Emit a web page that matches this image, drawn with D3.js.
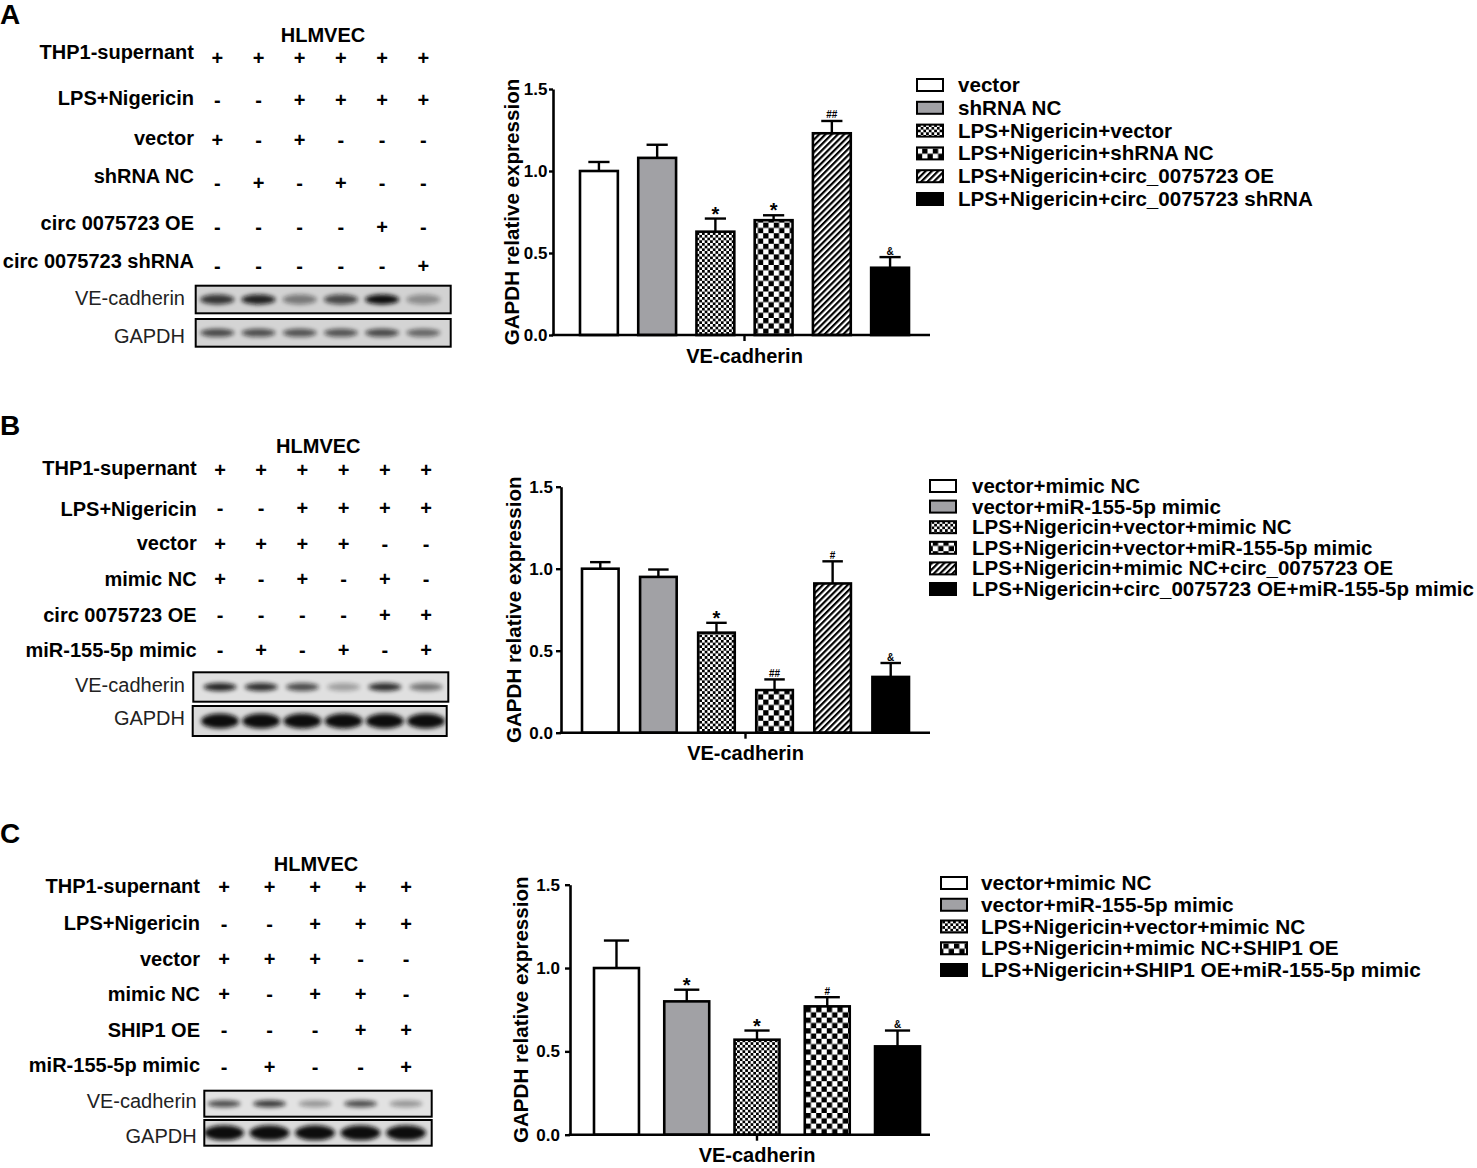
<!DOCTYPE html>
<html><head><meta charset="utf-8">
<script src="https://cdn.jsdelivr.net/npm/d3@7"></script>
<style>
body{margin:0;background:#fff}
text{font-family:"Liberation Sans",Arial,Helvetica,sans-serif}
</style>
</head><body>
<svg id="c" width="1477" height="1168"></svg>
<script>
// ---------------- DATA ----------------
const yTicks = [0, 0.5, 1.0, 1.5];
const xCategory = "VE-cadherin";

// Panel A
const A_groups = ["vector","shRNA NC","LPS+Nigericin+vector","LPS+Nigericin+shRNA NC","LPS+Nigericin+circ_0075723 OE","LPS+Nigericin+circ_0075723 shRNA"];
const A_means  = [1.00, 1.08, 0.63, 0.70, 1.23, 0.41];
const A_errs   = [0.055, 0.08, 0.08, 0.03, 0.075, 0.065];
const A_marks  = ["", "", "*", "*", "##", "&"];
const A_styles = [0, 1, 2, 3, 4, 5];
const A_rowLabels = ["THP1-supernant","LPS+Nigericin","vector","shRNA NC","circ 0075723 OE","circ 0075723 shRNA"];
const A_signs = [
  ["+","+","+","+","+","+"],
  ["-","-","+","+","+","+"],
  ["+","-","+","-","-","-"],
  ["-","+","-","+","-","-"],
  ["-","-","-","-","+","-"],
  ["-","-","-","-","-","+"]
];
const A_veBands    = [0.80, 0.90, 0.45, 0.70, 1.00, 0.35];
const A_gapdhBands = [0.70, 0.68, 0.65, 0.65, 0.70, 0.55];

// Panel B
const B_groups = ["vector+mimic NC","vector+miR-155-5p mimic","LPS+Nigericin+vector+mimic NC","LPS+Nigericin+vector+miR-155-5p mimic","LPS+Nigericin+mimic NC+circ_0075723 OE","LPS+Nigericin+circ_0075723 OE+miR-155-5p mimic"];
const B_means  = [1.00, 0.95, 0.61, 0.26, 0.91, 0.34];
const B_errs   = [0.04, 0.045, 0.06, 0.065, 0.135, 0.085];
const B_marks  = ["", "", "*", "##", "#", "&"];
const B_styles = [0, 1, 2, 3, 4, 5];
const B_rowLabels = ["THP1-supernant","LPS+Nigericin","vector","mimic NC","circ 0075723 OE","miR-155-5p mimic"];
const B_signs = [
  ["+","+","+","+","+","+"],
  ["-","-","+","+","+","+"],
  ["+","+","+","+","-","-"],
  ["+","-","+","-","+","-"],
  ["-","-","-","-","+","+"],
  ["-","+","-","+","-","+"]
];
const B_veBands    = [0.90, 0.85, 0.70, 0.30, 0.85, 0.50];
const B_gapdhBands = [1, 1, 1, 1, 1, 1];

// Panel C
const C_groups = ["vector+mimic NC","vector+miR-155-5p mimic","LPS+Nigericin+vector+mimic NC","LPS+Nigericin+mimic NC+SHIP1 OE","LPS+Nigericin+SHIP1 OE+miR-155-5p mimic"];
const C_means  = [1.00, 0.80, 0.57, 0.77, 0.53];
const C_errs   = [0.165, 0.07, 0.055, 0.055, 0.095];
const C_marks  = ["", "*", "*", "#", "&"];
const C_styles = [0, 1, 2, 3, 5];
const C_rowLabels = ["THP1-supernant","LPS+Nigericin","vector","mimic NC","SHIP1 OE","miR-155-5p mimic"];
const C_signs = [
  ["+","+","+","+","+"],
  ["-","-","+","+","+"],
  ["+","+","+","-","-"],
  ["+","-","+","+","-"],
  ["-","-","-","+","+"],
  ["-","+","-","-","+"]
];
const C_veBands    = [0.70, 0.80, 0.35, 0.70, 0.35];
const C_gapdhBands = [1, 1, 1, 1, 1];

// ---------------- DRAWING ----------------
const svg = d3.select("#c");
const defs = svg.append("defs");
const FONT = '"Liberation Sans",Arial,Helvetica,sans-serif';

(function(){
  let p = defs.append("pattern").attr("id","pFine").attr("patternUnits","userSpaceOnUse").attr("width",5.4).attr("height",5.4);
  p.append("rect").attr("width",5.4).attr("height",5.4).attr("fill","#fff");
  p.append("rect").attr("width",2.7).attr("height",2.7).attr("fill","#000");
  p.append("rect").attr("x",2.7).attr("y",2.7).attr("width",2.7).attr("height",2.7).attr("fill","#000");
  p = defs.append("pattern").attr("id","pCoarse").attr("patternUnits","userSpaceOnUse").attr("width",10.6).attr("height",10.6);
  p.append("rect").attr("width",10.6).attr("height",10.6).attr("fill","#fff");
  p.append("rect").attr("width",5.3).attr("height",5.3).attr("fill","#000");
  p.append("rect").attr("x",5.3).attr("y",5.3).attr("width",5.3).attr("height",5.3).attr("fill","#000");
  p = defs.append("pattern").attr("id","pHatch").attr("patternUnits","userSpaceOnUse").attr("width",4.4).attr("height",10).attr("patternTransform","rotate(45)");
  p.append("rect").attr("width",4.4).attr("height",10).attr("fill","#fff");
  p.append("rect").attr("width",2.2).attr("height",10).attr("fill","#000");
  const f = defs.append("filter").attr("id","blur").attr("x","-50%").attr("y","-150%").attr("width","200%").attr("height","400%");
  f.append("feGaussianBlur").attr("stdDeviation",2.2);
})();
const FILLS = ["#ffffff","#a1a1a5","url(#pFine)","url(#pCoarse)","url(#pHatch)","#000000"];

function drawTable(cfg){
  const g = svg.append("g");
  const col = d3.scalePoint().domain(d3.range(cfg.signs[0].length)).range(cfg.colRange);
  g.append("text").attr("x", cfg.letter[0]).attr("y", cfg.letter[1]).attr("font-size", 28).attr("font-weight","bold").text(cfg.letterText);
  g.append("text").attr("x", cfg.hl[0]).attr("y", cfg.hl[1]).attr("text-anchor","middle").attr("font-size",20).attr("font-weight","bold").text("HLMVEC");
  cfg.rowLabels.forEach((lab,i)=>{
    g.append("text").attr("x", cfg.labelRight).attr("y", cfg.labelY[i]).attr("text-anchor","end")
      .attr("font-size",20).attr("font-weight","bold").text(lab);
    cfg.signs[i].forEach((s,j)=>{
      g.append("text").attr("x", col(j)).attr("y", cfg.signY[i]).attr("text-anchor","middle")
        .attr("font-size",20).attr("font-weight","bold").text(s);
    });
  });
  cfg.blots.forEach((b,k)=>{
    const id = "clip"+cfg.letterText+k;
    defs.append("clipPath").attr("id",id).append("rect").attr("x",b.box[0]).attr("y",b.box[2]).attr("width",b.box[1]-b.box[0]).attr("height",b.box[3]-b.box[2]);
    g.append("rect").attr("x",b.box[0]).attr("y",b.box[2]).attr("width",b.box[1]-b.box[0]).attr("height",b.box[3]-b.box[2]).attr("fill",b.bg);
    const bg = g.append("g").attr("clip-path","url(#"+id+")");
    const cy = (b.box[2]+b.box[3])/2;
    bg.selectAll("ellipse").data(b.bands).join("ellipse")
      .attr("cx",(d,j)=>col(j)).attr("cy",cy).attr("rx",b.bw/2).attr("ry",b.bh/2)
      .attr("fill","#111").attr("opacity",d=>d).attr("filter","url(#blur)");
    g.append("rect").attr("x",b.box[0]).attr("y",b.box[2]).attr("width",b.box[1]-b.box[0]).attr("height",b.box[3]-b.box[2])
      .attr("fill","none").attr("stroke","#000").attr("stroke-width",2);
    g.append("text").attr("x",cfg.blotLabelRight).attr("y",b.labelY).attr("text-anchor","end").attr("font-size",20).attr("fill","#222").text(b.label);
  });
}

function drawChart(cfg){
  const g = svg.append("g");
  const x = d3.scaleBand().domain(cfg.groups).range([cfg.barL, cfg.barR]).paddingInner(cfg.pi).paddingOuter(0);
  const y = d3.scaleLinear().domain([0,1.5]).range([cfg.y0, cfg.y1]);
  const bw = x.bandwidth();
  g.selectAll("rect.bar").data(cfg.groups).join("rect").attr("class","bar")
    .attr("x",d=>x(d)).attr("y",(d,i)=>y(cfg.means[i])).attr("width",bw)
    .attr("height",(d,i)=>y(0)-y(cfg.means[i]))
    .attr("fill",(d,i)=>FILLS[cfg.styles[i]]).attr("stroke","#000").attr("stroke-width",2.6);
  cfg.groups.forEach((d,i)=>{
    const cx = x(d)+bw/2, yt = y(cfg.means[i]), ye = y(cfg.means[i]+cfg.errs[i]);
    const cw = bw*0.56;
    g.append("line").attr("x1",cx).attr("x2",cx).attr("y1",yt).attr("y2",ye).attr("stroke","#000").attr("stroke-width",2.4);
    g.append("line").attr("x1",cx-cw/2).attr("x2",cx+cw/2).attr("y1",ye).attr("y2",ye).attr("stroke","#000").attr("stroke-width",2.4);
    const m = cfg.marks[i];
    if(m){
      const star = m === "*";
      g.append("text").attr("x",cx).attr("y", star ? ye+2 : ye-2.5).attr("text-anchor","middle")
        .attr("font-size", star ? 20 : 10).attr("font-weight","bold").text(m);
    }
  });
  const ya = g.append("g").attr("transform",`translate(${cfg.x0},0)`)
    .call(d3.axisLeft(y).tickValues(yTicks).tickFormat(d3.format(".1f")).tickSize(cfg.tickLen).tickSizeOuter(0).tickPadding(cfg.tickPad));
  ya.select(".domain").attr("stroke-width",2.6);
  ya.selectAll(".tick line").attr("stroke-width",2.4);
  ya.selectAll(".tick text").attr("font-size",17).attr("font-weight","bold").attr("font-family",FONT).attr("fill","#000");
  g.append("line").attr("x1",cfg.x0-1.3).attr("x2",cfg.x1).attr("y1",cfg.y0).attr("y2",cfg.y0).attr("stroke","#000").attr("stroke-width",2.6);
  const xo = d3.scaleBand().domain([xCategory]).range([cfg.barL, cfg.barR]);
  const xa = g.append("g").attr("transform",`translate(0,${cfg.y0})`)
    .call(d3.axisBottom(xo).tickSize(6).tickSizeOuter(0).tickPadding(7.5));
  xa.select(".domain").remove();
  xa.selectAll(".tick line").attr("stroke-width",2.4);
  xa.selectAll(".tick text").attr("font-size",20).attr("font-weight","bold").attr("font-family",FONT).attr("fill","#000");
  g.append("text").attr("transform",`translate(${cfg.titleX},${(cfg.y0+cfg.y1)/2}) rotate(-90)`)
    .attr("text-anchor","middle").attr("font-size",20.6).attr("font-weight","bold").text("GAPDH relative expression");
  cfg.groups.forEach((d,i)=>{
    const cy = cfg.legY + i*cfg.legStep;
    g.append("rect").attr("x",cfg.legSX).attr("y",cy-6).attr("width",26).attr("height",12)
      .attr("fill",FILLS[cfg.styles[i]]).attr("stroke","#000").attr("stroke-width",2);
    g.append("text").attr("x",cfg.legTX).attr("y",cy+7).attr("font-size",cfg.legFont).attr("font-weight","bold").text(d);
  });
}

// ---- Panel A ----
drawTable({
  letterText:"A", letter:[0,24], hl:[323,41.7],
  rowLabels:A_rowLabels, signs:A_signs, labelRight:194,
  labelY:[59.3,105,145,183,230,268], signY:[65.2,106.9,146.9,189.6,233.6,272.6],
  colRange:[217.3,423.3], blotLabelRight:185,
  blots:[
    {label:"VE-cadherin", box:[195.7,450.7,285.7,313.3], bands:A_veBands, bw:34, bh:10, bg:"#d2d2d2", labelY:305},
    {label:"GAPDH", box:[195.7,450.7,319,346.7], bands:A_gapdhBands, bw:34, bh:8, bg:"#d4d4d4", labelY:343}
  ]
});
drawChart({groups:A_groups, means:A_means, errs:A_errs, marks:A_marks, styles:A_styles,
  x0:553, x1:930, barL:580, barR:909, pi:0.35, y0:335, y1:89, titleX:519, tickLen:4, tickPad:1.5,
  legY:85, legStep:22.8, legSX:917, legTX:958, legFont:20.6});

// ---- Panel B ----
drawTable({
  letterText:"B", letter:[0,435], hl:[318.3,453.3],
  rowLabels:B_rowLabels, signs:B_signs, labelRight:196.7,
  labelY:[475,515.7,550,585.7,621.7,656.7], signY:[476.9,515.2,550.9,586.2,621.9,656.9],
  colRange:[220,426], blotLabelRight:185,
  blots:[
    {label:"VE-cadherin", box:[193.3,448.3,672.3,701.7], bands:B_veBands, bw:33, bh:8, bg:"#e0e0e0", labelY:691.7},
    {label:"GAPDH", box:[192.7,446.7,706,736], bands:B_gapdhBands, bw:38, bh:15, bg:"#dadada", labelY:725}
  ]
});
drawChart({groups:B_groups, means:B_means, errs:B_errs, marks:B_marks, styles:B_styles,
  x0:561, x1:930, barL:582, barR:909, pi:0.37, y0:732.7, y1:486.7, titleX:521, tickLen:5, tickPad:3,
  legY:486, legStep:20.6, legSX:930, legTX:972, legFont:20.5});

// ---- Panel C ----
drawTable({
  letterText:"C", letter:[0,843.3], hl:[316,870.7],
  rowLabels:C_rowLabels, signs:C_signs, labelRight:200,
  labelY:[892.7,930,965.7,1001,1036.7,1072.3], signY:[893.6,930.9,966.2,1000.9,1036.9,1073.6],
  colRange:[224,406], blotLabelRight:196.7,
  blots:[
    {label:"VE-cadherin", box:[204.3,431.7,1090.7,1116.7], bands:C_veBands, bw:33, bh:7, bg:"#e2e2e2", labelY:1108.3},
    {label:"GAPDH", box:[204.3,431.7,1120,1145.7], bands:C_gapdhBands, bw:40, bh:15, bg:"#dcdcdc", labelY:1142.7}
  ]
});
drawChart({groups:C_groups, means:C_means, errs:C_errs, marks:C_marks, styles:C_styles,
  x0:570, x1:930, barL:594, barR:920, pi:0.36, y0:1134.7, y1:884.7, titleX:528, tickLen:5, tickPad:5,
  legY:883, legStep:21.75, legSX:941, legTX:981, legFont:20.8});
</script>
</body></html>
